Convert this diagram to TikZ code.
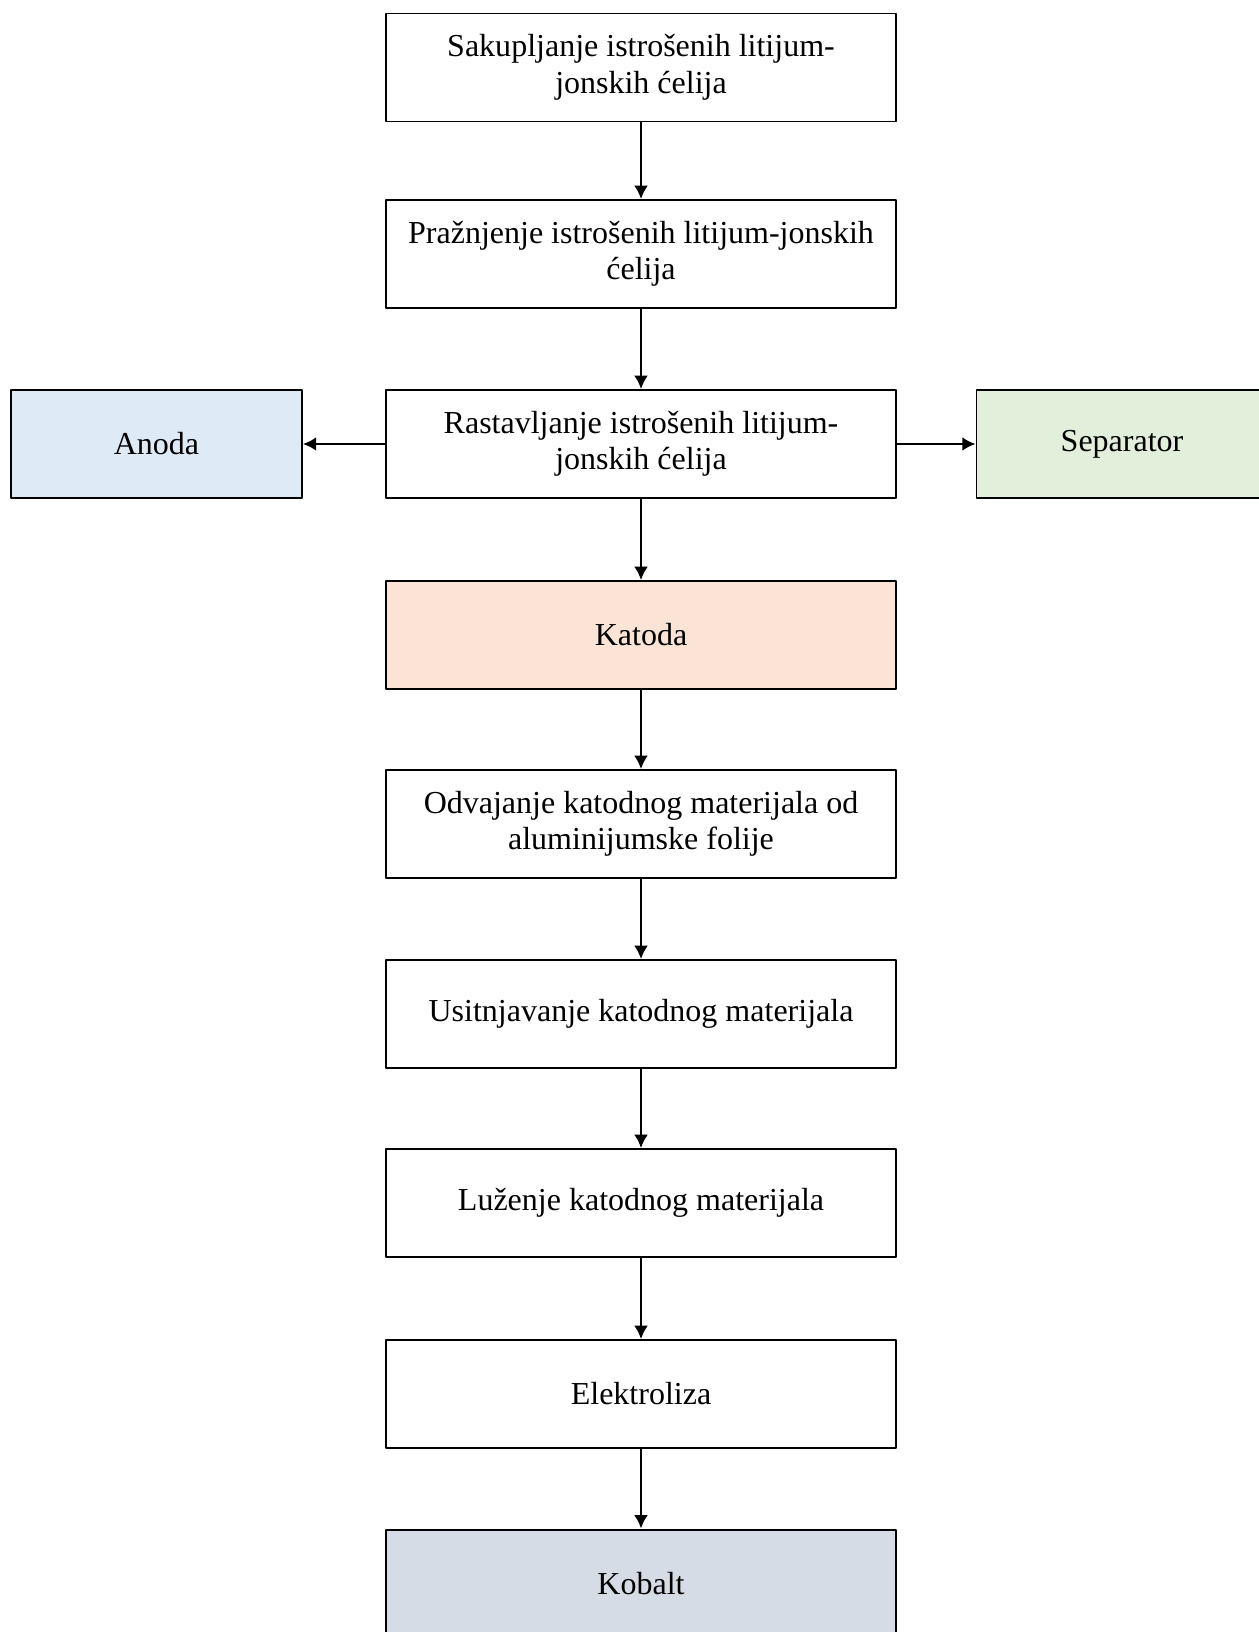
\documentclass[tikz,border=0pt]{standalone}
\usepackage{fontspec}
\setmainfont{Liberation Serif}
\usetikzlibrary{arrows.meta}
\definecolor{anodafill}{HTML}{DEEAF6}
\definecolor{sepfill}{HTML}{E2EFDA}
\definecolor{katfill}{HTML}{FBE4D6}
\definecolor{kobfill}{HTML}{D5DCE5}
\begin{document}
\begin{tikzpicture}[x=.375pt, y=-.375pt, >={Latex[length=5pt,width=5.2pt]}, line join=round, font=\fontsize{12}{13.7}\selectfont]
	\tikzset{box/.style={draw, line width=.7pt, minimum width=191.25pt, minimum height=40.5pt, align=center, inner sep=0pt},
		side/.style={box, minimum width=109.1pt},
		link/.style={->, line width=.9pt}}
	\useasboundingbox (0,0) rectangle (1258,1632);
	% main column
	\node[box] (sakup) at (641,67.5) {Sakupljanje istrošenih litijum-\\jonskih ćelija};
	\node[box] (praz) at (641,254) {Pražnjenje istrošenih litijum-jonskih\\ćelija};
	\node[box] (rast) at (641,444) {Rastavljanje istrošenih litijum-\\jonskih ćelija};
	\node[box, fill=katfill] (katoda) at (641,635) {Katoda};
	\node[box] (odv) at (641,824) {Odvajanje katodnog materijala od\\aluminijumske folije};
	\node[box] (usit) at (641,1014) {Usitnjavanje katodnog materijala};
	\node[box] (luz) at (641,1203) {Luženje katodnog materijala};
	\node[box] (elek) at (641,1394) {Elektroliza};
	\node[box, fill=kobfill, line width=1.1pt] (kob) at (641,1584) {Kobalt};
	% side boxes
	\node[side, fill=anodafill] (anoda) at (156.5,444) {Anoda};
	\node[side, fill=sepfill] (sep) at (1122,444) {Separator};
	\foreach \a/\b in {sakup/praz, praz/rast, rast/katoda, katoda/odv, odv/usit, usit/luz, luz/elek, elek/kob}{
		\draw[link] (\a) -- (\b);
	}
	\draw[link] (rast.west) -- (anoda.east);
	\draw[link] (rast.east) -- (sep.west);
\end{tikzpicture}
\end{document}
